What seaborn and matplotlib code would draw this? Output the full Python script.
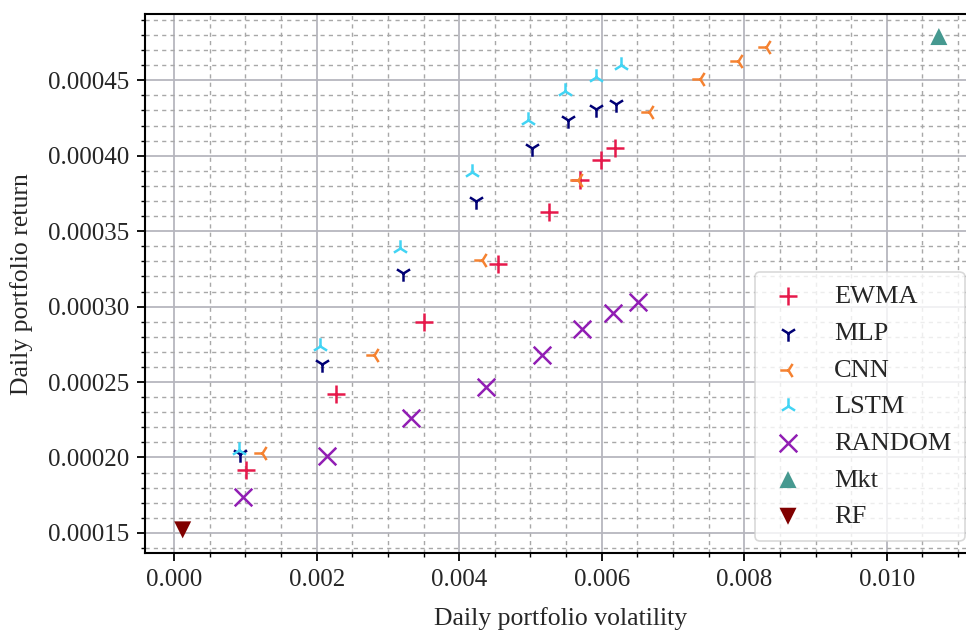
import numpy as np
import pandas as pd
import seaborn as sns
import matplotlib
matplotlib.use("Agg")
import matplotlib.pyplot as plt
from matplotlib.ticker import MultipleLocator, FormatStrFormatter

# data
ewma_vol = [0.00101, 0.00227, 0.00350, 0.00454, 0.00526, 0.00569, 0.00599, 0.00619]
ewma_ret = [0.000192, 0.000242, 0.000290, 0.000328, 0.000363, 0.000384, 0.000397, 0.000405]

mlp_vol = [0.00093, 0.00207, 0.00321, 0.00424, 0.00502, 0.00553, 0.00592, 0.00620]
mlp_ret = [0.000202, 0.000262, 0.000322, 0.000370, 0.000405, 0.000424, 0.000431, 0.000434]

cnn_vol = [0.00124, 0.00280, 0.00432, 0.00567, 0.00667, 0.00738, 0.00791, 0.00831]
cnn_ret = [0.000203, 0.000268, 0.000331, 0.000384, 0.000429, 0.000451, 0.000463, 0.000472]

lstm_vol = [0.00091, 0.00204, 0.00317, 0.00418, 0.00496, 0.00549, 0.00592, 0.00627]
lstm_ret = [0.000205, 0.000274, 0.000339, 0.000389, 0.000424, 0.000443, 0.000452, 0.000460]

random_vol = [0.00096, 0.00214, 0.00332, 0.00437, 0.00516, 0.00572, 0.00616, 0.00651]
random_ret = [0.000174, 0.000201, 0.000226, 0.000247, 0.000268, 0.000285, 0.000296, 0.000303]

mkt_vol = [0.01073]
mkt_ret = [0.000479]

rf_vol = [0.00012]
rf_ret = [0.000152]

series = ["EWMA", "MLP", "CNN", "LSTM", "RANDOM", "Mkt", "RF"]
vols = [ewma_vol, mlp_vol, cnn_vol, lstm_vol, random_vol, mkt_vol, rf_vol]
rets = [ewma_ret, mlp_ret, cnn_ret, lstm_ret, random_ret, mkt_ret, rf_ret]

colors = {"EWMA": "#E6194B", "MLP": "#000075", "CNN": "#F58231", "LSTM": "#42D4F4",
          "RANDOM": "#911EB4", "Mkt": "#469990", "RF": "#800000"}
markers = {"EWMA": "+", "MLP": "1", "CNN": "3", "LSTM": "2",
           "RANDOM": "x", "Mkt": "^", "RF": "v"}
sizes = {"EWMA": 150, "MLP": 140, "CNN": 140, "LSTM": 140,
         "RANDOM": 160, "Mkt": 150, "RF": 150}

df = pd.concat([pd.DataFrame({"vol": v, "ret": r, "model": s})
                for s, v, r in zip(series, vols, rets)], ignore_index=True)

sns.set_theme(style="ticks")
plt.rcParams["font.family"] = ["Liberation Serif", "DejaVu Serif"]

fig = plt.figure(figsize=(9.66, 6.33), dpi=100)
# the right edge of the axes runs a little past the picture (cropped like the reference)
ax = fig.add_axes([0.150, 0.126, 0.861, 0.852])

ax.set_axisbelow(True)
ax.grid(which="minor", color="#a8a8a8", linestyle=(0, (3, 3)), linewidth=1.0)
ax.grid(which="major", color="#b6b6be", linestyle="-", linewidth=1.3)

for s in series:
    sub = df[df["model"] == s]
    filled = markers[s] in ("^", "v")
    sns.scatterplot(data=sub, x="vol", y="ret", ax=ax, color=colors[s],
                    marker=markers[s], s=sizes[s], label=s,
                    linewidth=0 if filled else 1.8,
                    edgecolor="none" if filled else None, zorder=3)

ax.set_xlim(-0.00041, 0.01126)
ax.set_ylim(0.0001365, 0.000494)
ax.xaxis.set_major_locator(MultipleLocator(0.002))
ax.xaxis.set_minor_locator(MultipleLocator(0.0005))
ax.yaxis.set_major_locator(MultipleLocator(0.00005))
ax.yaxis.set_minor_locator(MultipleLocator(0.00001))
ax.xaxis.set_major_formatter(FormatStrFormatter("%.3f"))
ax.yaxis.set_major_formatter(FormatStrFormatter("%.5f"))

ax.tick_params(which="major", length=6, width=1.3, labelsize=18, pad=5, color="black")
ax.tick_params(which="minor", length=3, width=1.0, color="black")

for side in ["left", "bottom", "top", "right"]:
    ax.spines[side].set_linewidth(1.5)
    ax.spines[side].set_color("black")

ax.set_xlabel("Daily portfolio volatility", fontsize=18.5, labelpad=12)
ax.set_ylabel("Daily portfolio return", fontsize=18.5, labelpad=11)

leg = ax.legend(loc="lower right", fontsize=19, frameon=True, fancybox=True,
                framealpha=0.8, edgecolor="#d0d0d0", handlelength=1.5,
                handletextpad=1.0, labelspacing=0.5, borderpad=0.5,
                borderaxespad=0.45)
leg.get_frame().set_linewidth(1.2)

fig.savefig("out.png", dpi=100)
